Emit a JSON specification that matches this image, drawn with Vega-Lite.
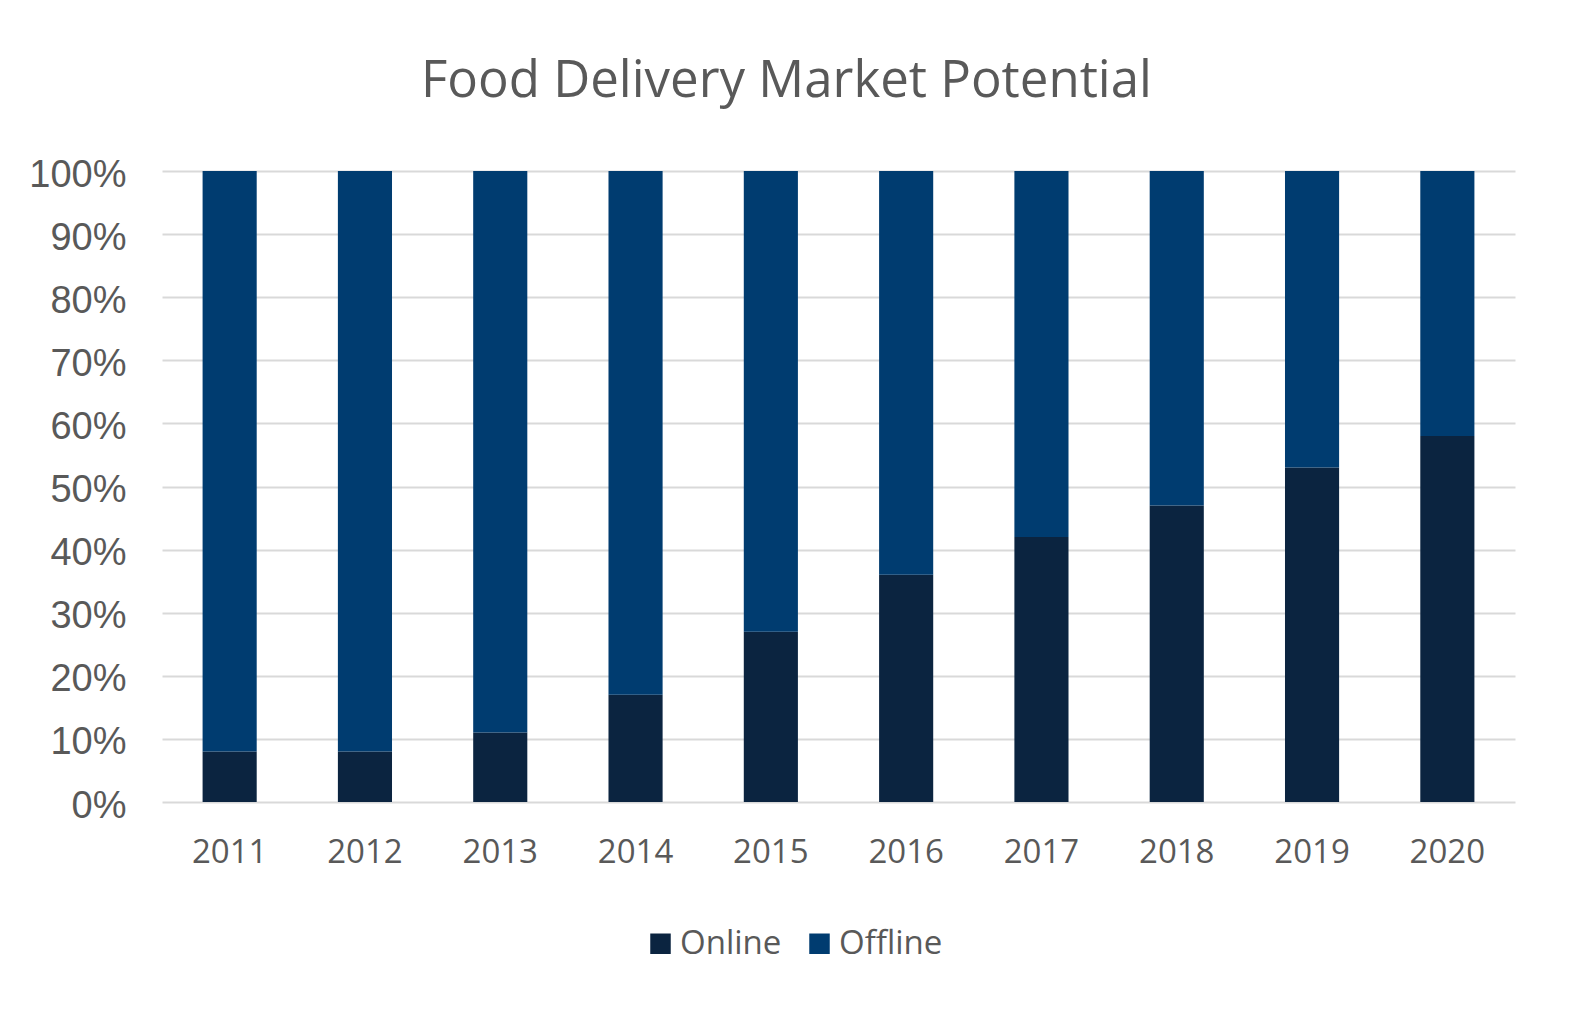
{
  "$schema": "https://vega.github.io/schema/vega-lite/v6.json",
  "autosize": {"type": "none"},
  "width": 1353,
  "height": 631,
  "padding": {"left": 162, "top": 171, "right": 61, "bottom": 211},
  "background": "white",
  "title": {
    "text": "Food Delivery Market Potential",
    "font": "Open Sans",
    "fontSize": 51,
    "fontWeight": "normal",
    "color": "#595959",
    "anchor": "middle",
    "baseline": "alphabetic",
    "offset": 8,
    "dx": -52
  },
  "data": {
    "values": [
      {"year": "2011", "type": "Online", "share": 8},
      {"year": "2011", "type": "Offline", "share": 92},
      {"year": "2012", "type": "Online", "share": 8},
      {"year": "2012", "type": "Offline", "share": 92},
      {"year": "2013", "type": "Online", "share": 11},
      {"year": "2013", "type": "Offline", "share": 89},
      {"year": "2014", "type": "Online", "share": 17},
      {"year": "2014", "type": "Offline", "share": 83},
      {"year": "2015", "type": "Online", "share": 27},
      {"year": "2015", "type": "Offline", "share": 73},
      {"year": "2016", "type": "Online", "share": 36},
      {"year": "2016", "type": "Offline", "share": 64},
      {"year": "2017", "type": "Online", "share": 42},
      {"year": "2017", "type": "Offline", "share": 58},
      {"year": "2018", "type": "Online", "share": 47},
      {"year": "2018", "type": "Offline", "share": 53},
      {"year": "2019", "type": "Online", "share": 53},
      {"year": "2019", "type": "Offline", "share": 47},
      {"year": "2020", "type": "Online", "share": 58},
      {"year": "2020", "type": "Offline", "share": 42}
    ]
  },
  "mark": {"type": "bar"},
  "encoding": {
    "x": {
      "field": "year",
      "type": "ordinal",
      "scale": {"paddingInner": 0.6, "paddingOuter": 0.3},
      "axis": {
        "title": null,
        "labelAngle": 0,
        "labelFont": "Open Sans",
        "labelFontSize": 33,
        "labelColor": "#595959",
        "labelBaseline": "alphabetic",
        "labelPadding": 60,
        "ticks": false,
        "domain": false,
        "grid": false
      }
    },
    "y": {
      "field": "share",
      "type": "quantitative",
      "stack": "normalize",
      "scale": {"domain": [0, 1], "nice": false},
      "axis": {
        "title": null,
        "values": [0, 0.1, 0.2, 0.3, 0.4, 0.5, 0.6, 0.7, 0.8, 0.9, 1],
        "format": ".0%",
        "labelFont": "Liberation Sans",
        "labelFontSize": 38,
        "labelColor": "#595959",
        "labelPadding": 36,
        "labelOffset": 4,
        "ticks": false,
        "domain": false,
        "grid": true,
        "gridColor": "#d9d9d9",
        "gridWidth": 2
      }
    },
    "color": {
      "field": "type",
      "type": "nominal",
      "sort": ["Online", "Offline"],
      "scale": {"domain": ["Online", "Offline"], "range": ["#0b2440", "#003c70"]},
      "legend": {
        "title": null,
        "orient": "none",
        "direction": "horizontal",
        "legendX": 482,
        "legendY": 756,
        "symbolType": "square",
        "symbolSize": 420,
        "symbolStrokeWidth": 0,
        "labelFont": "Open Sans",
        "labelFontSize": 33,
        "labelColor": "#595959",
        "labelOffset": 3,
        "columnPadding": 21
      }
    },
    "order": {"field": "type", "sort": "descending"}
  },
  "config": {"view": {"stroke": null}}
}
